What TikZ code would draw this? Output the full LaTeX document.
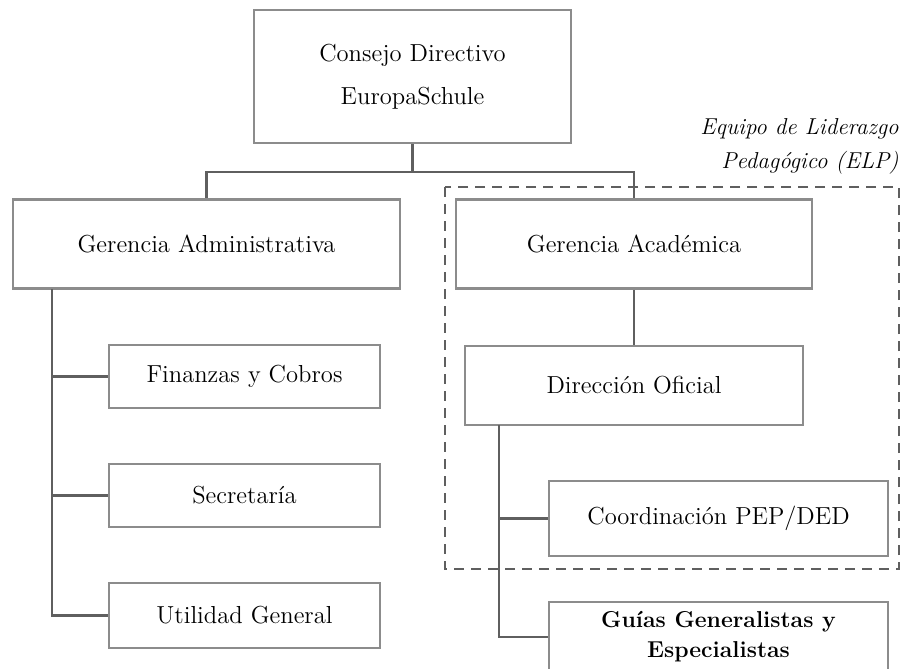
\documentclass[tikz,border=0pt]{standalone}
\usepackage{tikz}

\definecolor{borde}{RGB}{140,140,140}
\definecolor{linea}{RGB}{95,95,95}

\tikzset{
  caja/.style={draw=borde,line width=1.3pt,inner sep=0pt,align=center,
    font=\fontsize{12.3}{15}\selectfont},
  conector/.style={draw=linea,line width=1.1pt},
  equipo/.style={draw=linea,line width=1pt,dash pattern=on 5pt off 3.5pt}
}

\begin{document}
\begin{tikzpicture}[x=0.5pt,y=-0.5pt]

    \useasboundingbox (0,0) rectangle (908,668);

    \node[caja,minimum width=158.5pt,minimum height=66.5pt,font=\fontsize{12.3}{21.5}\selectfont] (consejo) at (412.5,76.5) {\raisebox{-1.5pt}{Consejo Directivo}\\\raisebox{-1.5pt}{EuropaSchule}};
    \node[caja,minimum width=193.5pt,minimum height=44.5pt] (gadmin) at (206.5,244) {Gerencia Administrativa};
    \node[caja,minimum width=178pt,minimum height=44.5pt] (gacad) at (634,244) {Gerencia Académica};
    \node[caja,minimum width=135.5pt,minimum height=31.5pt] (finanzas) at (244.5,376.5) {Finanzas y Cobros};
    \node[caja,minimum width=135.5pt,minimum height=31.5pt] (secre) at (244.5,495.5) {Secretaría};
    \node[caja,minimum width=135.5pt,minimum height=32.5pt] (utilidad) at (244.5,615.5) {Utilidad General};
    \node[caja,minimum width=169pt,minimum height=39.5pt] (direccion) at (634,385.5) {Dirección Oficial};
    \node[caja,minimum width=169.5pt,minimum height=37.5pt] (coord) at (718.5,518.5) {Coordinación PEP/DED};
    \node[caja,minimum width=169.5pt,minimum height=35pt,font=\fontsize{11.5}{15}\selectfont\bfseries] (guias) at (718.5,637) {Guías Generalistas y\\Especialistas};

    \draw[equipo] (445,187) rectangle (899,569);
    \node[anchor=east,align=right,inner sep=0pt,font=\fontsize{11.5}{17}\selectfont\itshape] (elp) at (899,146) {Equipo de Liderazgo\\Pedagógico (ELP)};

    \coordinate (bus) at (412.5,172);
    \coordinate (tronco1) at (52,289);
    \coordinate (tronco2) at (499,425);

    \draw[conector] (consejo.south) -- (bus);
    \draw[conector] (gadmin.north) |- (bus) -| (gacad.north);
    \draw[conector] (gacad.south) -- (direccion.north);

    \draw[conector] (tronco1) |- (utilidad.west);
    \foreach \n in {finanzas,secre} \draw[conector] (tronco1 |- \n.west) -- (\n.west);

    \draw[conector] (tronco2) |- (guias.west);
    \draw[conector] (tronco2 |- coord.west) -- (coord.west);

\end{tikzpicture}
\end{document}
